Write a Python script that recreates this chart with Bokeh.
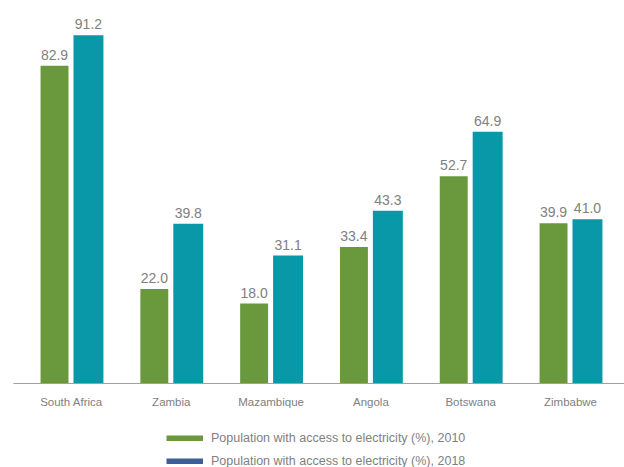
from bokeh.plotting import figure
from bokeh.layouts import column
from bokeh.models import ColumnDataSource, LabelSet, Range1d, FixedTicker, Legend, LegendItem
from bokeh.core.properties import value
from bokeh.transform import dodge
from bokeh.embed import file_html
from bokeh.resources import INLINE

countries = ["South Africa", "Zambia", "Mazambique", "Angola", "Botswana", "Zimbabwe"]
access_2010 = [82.9, 22.0, 18.0, 33.4, 52.7, 39.9]
access_2018 = [91.2, 39.8, 31.1, 43.3, 64.9, 41.0]
series_names = ["Population with access to electricity (%), 2010",
                "Population with access to electricity (%), 2018"]

GREEN = "#6a983c"
TEAL = "#0898a8"
BLUE = "#3c5f9a"
TEXT = "#808080"
FONT = "Liberation Sans"

idx = list(range(len(countries)))
src = ColumnDataSource(dict(
    x=idx,
    v2010=access_2010,
    v2018=access_2018,
    l2010=[f"{v:.1f}" for v in access_2010],
    l2018=[f"{v:.1f}" for v in access_2018],
))

Y0 = -3.8
p = figure(width=624, height=410, output_backend="svg", toolbar_location=None,
           x_range=Range1d(-0.581, 5.541), y_range=Range1d(Y0, 100.4),
           min_border_left=13, min_border_right=0, min_border_top=1, min_border_bottom=25)
p.outline_line_color = None
p.xgrid.visible = False
p.ygrid.visible = False
p.yaxis.visible = False

p.vbar(x=dodge("x", -0.17, range=p.x_range), top="v2010", bottom=Y0, width=0.28,
       source=src, fill_color=GREEN, line_color=None)
p.vbar(x=dodge("x", 0.17, range=p.x_range), top="v2018", bottom=Y0, width=0.30,
       source=src, fill_color=TEAL, line_color=None)

for off, col in [(-0.17, "l2010"), (0.17, "l2018")]:
    p.add_layout(LabelSet(x=dodge("x", off, range=p.x_range), y=col.replace("l", "v"), text=col,
                          source=src, y_offset=6, text_align="center", text_baseline="bottom",
                          text_font_size="14px", text_color=TEXT, text_font=value(FONT)))

ax = p.xaxis[0]
ax.ticker = FixedTicker(ticks=idx)
ax.major_label_overrides = {i: c for i, c in zip(idx, countries)}
ax.axis_line_color = "#a0a0a0"
ax.axis_line_width = 1
ax.major_tick_line_color = None
ax.minor_tick_line_color = None
ax.major_label_text_font = FONT
ax.major_label_text_font_size = "11.5px"
ax.major_label_text_color = TEXT
ax.major_label_standoff = 6

# legend strip below the chart (its series lie outside the visible y range)
lg = figure(width=624, height=57, output_backend="svg", toolbar_location=None,
            x_range=Range1d(0, 1), y_range=Range1d(-1, 0),
            x_axis_type=None, y_axis_type=None,
            min_border_left=0, min_border_right=0, min_border_top=0, min_border_bottom=0)
lg.outline_line_color = None
lg.xgrid.visible = False
lg.ygrid.visible = False
r1 = lg.line(x="x", y="v2010", source=src, line_color=GREEN, line_width=6)
r2 = lg.line(x="x", y="v2018", source=src, line_color=BLUE, line_width=6)
legend = Legend(items=[LegendItem(label=series_names[0], renderers=[r1]),
                       LegendItem(label=series_names[1], renderers=[r2])],
                orientation="vertical", location=(153, -1.5),
                glyph_width=37, glyph_height=6, label_height=15, spacing=8,
                label_standoff=8, padding=0, margin=0,
                label_text_font=FONT, label_text_font_size="12.5px", label_text_color=TEXT,
                border_line_alpha=0, background_fill_alpha=0)
lg.add_layout(legend, "center")

layout = column(p, lg, spacing=0)
open("out.html", "w").write(file_html(layout, INLINE))
